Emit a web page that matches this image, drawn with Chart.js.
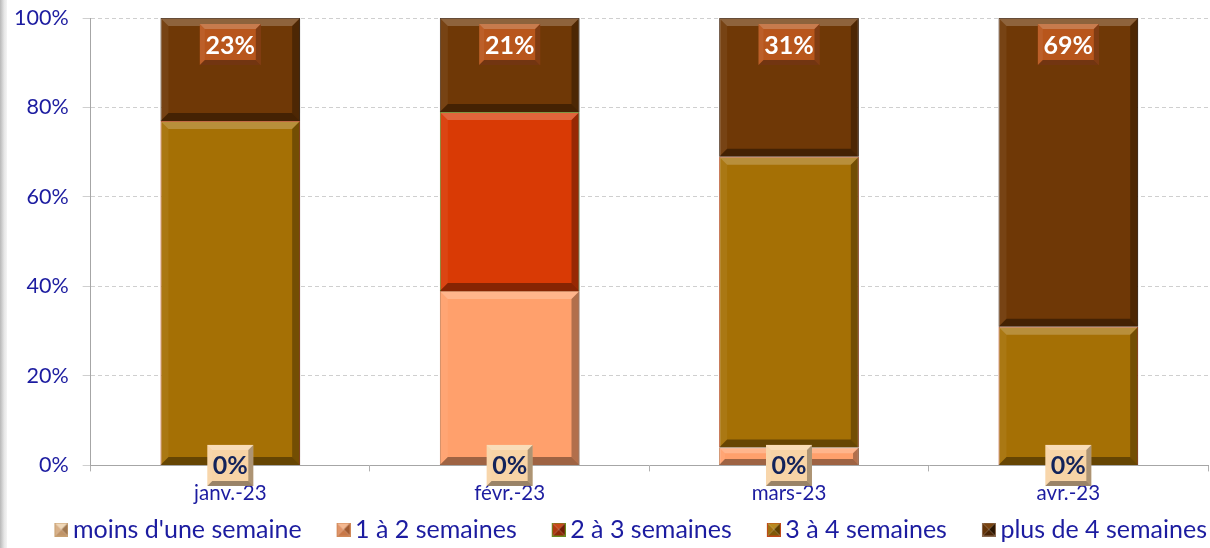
<!DOCTYPE html>
<html>
<head>
<meta charset="utf-8">
<script src="https://cdn.jsdelivr.net/npm/chart.js@4/dist/chart.umd.min.js"></script>
<style>
  html, body { margin: 0; padding: 0; background: #fff; }
  #wrap { position: relative; width: 1210px; height: 548px; overflow: hidden; }
  #strip { position: absolute; left: 0; top: 0; width: 7px; height: 548px;
           background: linear-gradient(to right, #b8b8b8, #e6e6e6 60%, #f4f4f4); }
</style>
</head>
<body>
<div id="wrap">
  <canvas id="chart" width="1210" height="548"></canvas>
  <div id="strip"></div>
</div>
<script>
// Données (en %)
const mois = ['janv.-23', 'févr.-23', 'mars-23', 'avr.-23'];
const moinsUneSemaine = [0, 0, 0, 0];
const unADeux = [0, 39, 4, 0];
const deuxATrois = [0, 40, 0, 0];
const troisAQuatre = [77, 0, 65, 31];
const plusDeQuatre = [23, 21, 31, 69];
const yTicks = [0, 20, 40, 60, 80, 100];

const bleu = '#1c1ca0';
const police = 'Lato';
const LEG_BOX = 40;   // largeur réservée à l'icône dans la légende

// petit carré "pyramide" pour la légende (collé à droite d'un canevas plus large)
function legendIcon(c1, c2, c3, c4, border) {
    const s = 14;
    const cv = document.createElement('canvas');
    cv.width = LEG_BOX + 16; cv.height = s;
    const g = cv.getContext('2d');
    g.translate(cv.width - s, 0);
    const tri = (pts, col) => {
        g.fillStyle = col;
        g.beginPath();
        g.moveTo(pts[0], pts[1]); g.lineTo(pts[2], pts[3]); g.lineTo(s / 2, s / 2);
        g.closePath(); g.fill();
    };
    tri([0, 0, s, 0], c1);
    tri([0, 0, 0, s], c2);
    tri([s, 0, s, s], c3);
    tri([0, s, s, s], c4);
    g.strokeStyle = border; g.lineWidth = 1;
    g.strokeRect(0.5, 0.5, s - 1, s - 1);
    return cv;
}

const datasets = [
    { label: "moins d'une semaine", data: moinsUneSemaine, backgroundColor: '#e8c39a', borderColor: '#b08050',
      pointStyle: legendIcon('#f0d8b8', '#d8b088', '#a07850', '#c09468', '#c8a070') },
    { label: '1 à 2 semaines', data: unADeux, backgroundColor: '#ffa06c', borderColor: '#c06a3a',
      pointStyle: legendIcon('#f4b890', '#e09468', '#a05a30', '#c87848', '#d08858') },
    { label: '2 à 3 semaines', data: deuxATrois, backgroundColor: '#d93a05', borderColor: '#5a7a10',
      pointStyle: legendIcon('#c84818', '#b03a10', '#701c04', '#902a08', '#6a8a20') },
    { label: '3 à 4 semaines', data: troisAQuatre, backgroundColor: '#a57005', borderColor: '#b04010',
      pointStyle: legendIcon('#b88a20', '#a07010', '#604000', '#805808', '#c04818') },
    { label: 'plus de 4 semaines', data: plusDeQuatre, backgroundColor: '#6f3806', borderColor: '#3a1a02',
      pointStyle: legendIcon('#7a4410', '#643408', '#2a1400', '#4a2404', '#8a6a50') }
];
datasets.forEach(d => { d.borderWidth = 1; d.barPercentage = 0.5; d.categoryPercentage = 1; });

// relief biseauté
function bevel(ctx, x0, y0, x1, y1, d) {
    d = Math.min(d, (y1 - y0) / 3, (x1 - x0) / 3);
    const poly = (pts, col) => {
        ctx.fillStyle = col;
        ctx.beginPath();
        ctx.moveTo(pts[0], pts[1]);
        for (let i = 2; i < pts.length; i += 2) ctx.lineTo(pts[i], pts[i + 1]);
        ctx.closePath(); ctx.fill();
    };
    poly([x0, y0, x1, y0, x1 - d, y0 + d, x0 + d, y0 + d], 'rgba(255,255,255,0.22)');
    poly([x0, y0, x0 + d, y0 + d, x0 + d, y1 - d, x0, y1], 'rgba(255,255,255,0.06)');
    poly([x1, y0, x1, y1, x1 - d, y1 - d, x1 - d, y0 + d], 'rgba(0,0,0,0.30)');
    poly([x0, y1, x1, y1, x1 - d, y1 - d, x0 + d, y1 - d], 'rgba(0,0,0,0.38)');
}

const bevelPlugin = {
    id: 'bevel',
    afterDatasetsDraw(chart) {
        const ctx = chart.ctx;
        ctx.save();
        chart.data.datasets.forEach((ds, i) => {
            chart.getDatasetMeta(i).data.forEach(bar => {
                const h = Math.abs(bar.base - bar.y);
                if (h < 2) return;
                bevel(ctx, bar.x - bar.width / 2, Math.min(bar.y, bar.base), bar.x + bar.width / 2, Math.max(bar.y, bar.base), 8);
            });
        });
        ctx.restore();
    }
};

function labelBox(ctx, cx, cy, w, h, fill, txtCol, txt) {
    const x0 = cx - w / 2, y0 = cy - h / 2;
    ctx.fillStyle = fill;
    ctx.fillRect(x0, y0, w, h);
    bevel(ctx, x0, y0, x0 + w, y0 + h, 5);
    ctx.fillStyle = txtCol;
    ctx.font = 'bold 25px "' + police + '"';
    ctx.textAlign = 'center';
    ctx.textBaseline = 'middle';
    ctx.fillText(txt, cx, cy + 1);
}

// étiquettes : première série en bas, dernière série en haut
const labelPlugin = {
    id: 'etiquettes',
    afterDatasetsDraw(chart) {
        const ctx = chart.ctx;
        ctx.save();
        chart.getDatasetMeta(0).data.forEach((bar, j) => {
            labelBox(ctx, bar.x, bar.base, 46, 41, '#f8d4a6', '#13235a', moinsUneSemaine[j] + '%');
        });
        chart.getDatasetMeta(4).data.forEach((bar, j) => {
            labelBox(ctx, bar.x, bar.y + 26.5, 61, 41, '#b8561c', '#ffffff', plusDeQuatre[j] + '%');
        });
        ctx.restore();
    }
};

new Chart(document.getElementById('chart').getContext('2d'), {
    type: 'bar',
    data: { labels: mois, datasets: datasets },
    plugins: [bevelPlugin, labelPlugin],
    options: {
        responsive: false,
        animation: false,
        layout: { padding: { left: 0, right: 2, top: 18, bottom: -4 } },
        plugins: {
            tooltip: { enabled: false },
            legend: {
                position: 'bottom',
                align: 'end',
                labels: {
                    usePointStyle: true,
                    pointStyleWidth: LEG_BOX,
                    color: bleu,
                    font: { family: police, size: 25 },
                    padding: 1,
                    boxHeight: 14
                }
            }
        },
        scales: {
            x: {
                stacked: true,
                grid: { drawOnChartArea: false, tickLength: 6, color: '#b0b0b0' },
                border: { color: '#a6a6a6' },
                ticks: { color: bleu, font: { family: police, size: 20.5 }, padding: 10 }
            },
            y: {
                stacked: true,
                min: 0, max: 100,
                afterBuildTicks: axis => { axis.ticks = yTicks.map(v => ({ value: v })); },
                afterFit: axis => { axis.paddingTop = 0; axis.paddingBottom = 0; },
                grid: { color: '#cfcfcf', tickLength: 8, tickBorderDash: [] },
                border: { color: '#a6a6a6', dash: [4, 3] },
                ticks: { color: bleu, font: { family: police, size: 21.5 }, padding: 14,
                         callback: v => v + '%' }
            }
        }
    }
});
</script>
</body>
</html>
